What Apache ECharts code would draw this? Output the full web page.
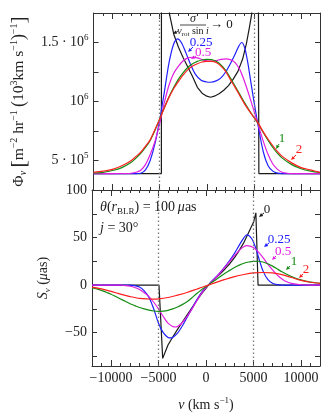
<!DOCTYPE html>
<html>
<head>
<meta charset="utf-8">
<script src="https://cdn.jsdelivr.net/npm/echarts@6/dist/echarts.min.js"></script>
<style>
  html, body { margin: 0; padding: 0; background: #fff; }
  #chart { width: 329px; height: 413px; }
</style>
</head>
<body>
<div id="chart"></div>
<script>
// velocity axis, km/s
const vRange = [-12000, 12000]
const vTicksMajor = [-10000, -5000, 0, 5000, 10000]
const edgeLines = [-5000, 5000]

// top panel: Phi_nu, in units of 10^6
const phiRange = [0.25, 1.75]
const phiBlack = [[-12000,0.389],[-4810,0.389],[-4800,3.0],[-4150,2.3],[-3950,1.74],[-3500,1.57],[-3000,1.46],[-2500,1.37],[-2000,1.29],[-1500,1.21],[-1000,1.12],[-500,1.07],[0,1.045],[400,1.036],[800,1.045],[1300,1.065],[1800,1.095],[2300,1.135],[2800,1.19],[3300,1.255],[3800,1.36],[4200,1.49],[4500,1.62],[4760,1.74],[5000,2.2],[5440,3.0],[5520,0.389],[12000,0.389]]
const phiBlue = [[-12000,0.389],[-7500,0.389],[-7000,0.392],[-6500,0.42],[-6000,0.50],[-5500,0.64],[-5000,0.84],[-4500,1.08],[-4000,1.33],[-3500,1.49],[-3100,1.53],[-2700,1.50],[-2200,1.41],[-1700,1.31],[-1200,1.23],[-600,1.18],[0,1.165],[400,1.163],[1000,1.175],[1500,1.20],[2000,1.25],[2500,1.32],[3000,1.40],[3400,1.47],[3700,1.50],[4000,1.46],[4300,1.35],[4700,1.15],[5000,1.00],[5500,0.77],[6000,0.57],[6500,0.455],[7000,0.41],[7500,0.393],[8000,0.389],[12000,0.389]]
const phiMagenta = [[-12000,0.389],[-8500,0.39],[-8000,0.392],[-7500,0.40],[-7000,0.417],[-6500,0.465],[-6000,0.55],[-5500,0.66],[-5000,0.81],[-4500,0.99],[-4000,1.14],[-3500,1.24],[-3000,1.30],[-2500,1.345],[-2000,1.37],[-1500,1.375],[-1000,1.37],[-500,1.355],[0,1.345],[500,1.342],[1000,1.347],[1500,1.357],[2000,1.362],[2500,1.355],[3000,1.33],[3500,1.27],[4000,1.17],[4500,1.05],[5000,0.92],[5500,0.79],[6000,0.66],[6500,0.55],[7000,0.47],[7500,0.425],[8000,0.40],[8500,0.392],[9000,0.389],[12000,0.389]]
const phiGreen = [[-12000,0.394],[-11000,0.40],[-10000,0.415],[-9000,0.44],[-8000,0.485],[-7500,0.52],[-7000,0.56],[-6500,0.61],[-6000,0.67],[-5500,0.755],[-5000,0.85],[-4500,0.95],[-4000,1.04],[-3500,1.12],[-3000,1.19],[-2500,1.245],[-2000,1.29],[-1500,1.32],[-1000,1.34],[-500,1.352],[0,1.357],[500,1.355],[1000,1.34],[1500,1.31],[2000,1.265],[2500,1.20],[3000,1.13],[3500,1.06],[4000,0.99],[4500,0.925],[5000,0.865],[5500,0.805],[6000,0.735],[6500,0.67],[7000,0.61],[7500,0.56],[8000,0.52],[9000,0.465],[10000,0.43],[11000,0.41],[12000,0.398]]
const phiRed = [[-12000,0.40],[-11000,0.41],[-10000,0.425],[-9000,0.455],[-8000,0.50],[-7500,0.535],[-7000,0.57],[-6500,0.62],[-6000,0.675],[-5500,0.76],[-5000,0.85],[-4500,0.945],[-4000,1.035],[-3500,1.11],[-3000,1.17],[-2500,1.225],[-2000,1.27],[-1500,1.30],[-1000,1.32],[-500,1.335],[0,1.34],[500,1.34],[1000,1.33],[1500,1.30],[2000,1.255],[2500,1.185],[3000,1.12],[3500,1.05],[4000,0.98],[4500,0.92],[5000,0.865],[5500,0.81],[6000,0.74],[6500,0.68],[7000,0.625],[7500,0.575],[8000,0.535],[9000,0.48],[10000,0.44],[11000,0.42],[12000,0.40]]

// bottom panel: S_nu, micro-arcsec
const sRange = [-85, 100]
const sTicks = [-75, -50, -25, 0, 25, 50, 75]
const sLabels = [-50, 0, 50, 100]
const sBlack = [[-12000,0],[-4950,0],[-4560,-77],[-4000,-63],[-3500,-54.5],[-3000,-46.5],[-2500,-39],[-2000,-31.5],[-1500,-24],[-1000,-16.5],[-500,-9.5],[0,-3.5],[250,0],[500,2.5],[1000,7.5],[1500,12],[2000,17],[2500,22.5],[3000,29],[3500,36.5],[4000,45],[4500,55.5],[5000,66],[5250,76],[5480,0],[12000,0]]
const sBlue = [[-12000,0],[-8000,0],[-7500,-0.5],[-7000,-2],[-6500,-6],[-6000,-13],[-5500,-25],[-5000,-40],[-4500,-50],[-4000,-55],[-3700,-55.5],[-3500,-55],[-3000,-50.5],[-2500,-43],[-2000,-34],[-1500,-25],[-1000,-16],[-500,-8],[0,-2],[250,0],[500,3],[1000,8],[1500,13.5],[2000,19.5],[2500,26],[3000,33.5],[3500,42],[4000,50],[4300,52.8],[4800,49],[5200,40],[5600,27],[6000,15],[6500,6],[7000,2],[7500,0.5],[8000,0],[12000,0]]
const sMagenta = [[-12000,0],[-9000,0],[-8500,-0.5],[-8000,-1.2],[-7500,-2.5],[-7000,-4.5],[-6500,-8],[-6000,-12],[-5500,-18],[-5000,-25],[-4500,-33],[-4000,-40],[-3500,-43.5],[-3200,-44],[-3000,-43.5],[-2500,-39.5],[-2000,-33],[-1500,-25.5],[-1000,-17],[-500,-9],[0,-2.5],[250,0],[500,2.5],[1000,7.5],[1500,13],[2000,19],[2500,25],[3000,31],[3500,36.5],[4000,40.5],[4300,41.5],[5000,39.5],[5500,35],[6000,29],[6500,22],[7000,16],[7500,10.5],[8000,6.5],[8500,3.5],[9000,1.8],[10000,0.4],[11000,0],[12000,0]]
const sGreen = [[-12000,-3],[-11500,-4],[-11000,-5.5],[-10500,-7.5],[-10000,-9.5],[-9500,-12],[-9000,-14.5],[-8500,-17],[-8000,-19.5],[-7500,-21.5],[-7000,-23.5],[-6500,-25],[-6000,-26.3],[-5500,-27.2],[-5000,-27.5],[-4500,-27.3],[-4000,-26.5],[-3500,-25],[-3000,-23],[-2500,-20.5],[-2000,-17.5],[-1500,-13.5],[-1000,-9],[-500,-5],[0,-1.8],[250,0],[500,2],[1000,5.5],[1500,9],[2000,12.5],[2500,15.5],[3000,18.5],[3500,21],[4000,23],[4500,24.3],[5000,25],[5500,25.1],[6000,24.3],[6500,22.5],[7000,20],[7500,17],[8000,14],[8500,11.5],[9000,9],[9500,7],[10000,5.5],[10500,4.2],[11000,3.2],[11500,2.5],[12000,2]]
const sRed = [[-12000,-2],[-11000,-4],[-10000,-6.5],[-9000,-9.5],[-8000,-12],[-7000,-14],[-6000,-14.6],[-5500,-14.7],[-5000,-14.5],[-4000,-13],[-3000,-10.5],[-2000,-7.7],[-1000,-4.3],[-500,-2.5],[0,-0.8],[250,0],[1000,2.7],[2000,6],[3000,9],[4000,11.2],[5000,12.8],[6000,13.3],[7000,12.8],[8000,11],[9000,8],[10000,5],[11000,3],[12000,1.8]]

const FONT = '"Liberation Serif", "DejaVu Serif", serif'
const INK = '#222'
const C = { black: '#1a1a1a', blue: '#2020ff', magenta: '#e01ee0', green: '#138c13', red: '#ff1f1f' }

function makeRich (size, color) {
  const s = Math.round(size * 0.66)
  const base = { fontFamily: FONT, color, fill: color }
  return {
    a: Object.assign({}, base, { fontSize: size, lineHeight: size + 4 }),
    i: Object.assign({}, base, { fontSize: size, fontStyle: 'italic', lineHeight: size + 4 }),
    big: Object.assign({}, base, { fontSize: size * 1.4, lineHeight: size + 4 }),
    par: Object.assign({}, base, { fontSize: size * 1.15, lineHeight: size + 4 }),
    sup: Object.assign({}, base, { fontSize: s, verticalAlign: 'top', lineHeight: s + 1 }),
    sub: Object.assign({}, base, { fontSize: s, verticalAlign: 'bottom', lineHeight: s + 1 }),
    isub: Object.assign({}, base, { fontSize: s, fontStyle: 'italic', verticalAlign: 'bottom', lineHeight: s + 1 }),
  }
}
const rich = makeRich(14, INK)
const richTitle = makeRich(15.5, INK)

const minus = v => String(v).replace('-', '\u2212')

// 坐标轴
const frame = { show: true, onZero: false, lineStyle: { color: '#333', width: 1 } }

function xAxisOf (grid, pos, labels) {
  return {
    type: 'value', gridIndex: grid, position: pos, min: vRange[0], max: vRange[1], interval: 1000,
    axisLine: frame,
    axisTick: { show: true, inside: true, length: 3, lineStyle: { color: '#333' } },
    axisLabel: { show: labels, margin: 5, fontFamily: FONT, fontSize: 14, color: INK,
      formatter: v => (v % 5000 === 0 && Math.abs(v) < 12000) ? minus(v) : '' },
    splitLine: { show: false },
    name: labels ? '{i|v} {a|(km s}{sup|\u22121}{a|)}' : '',
    nameLocation: 'middle', nameGap: 30, nameTextStyle: { rich },
  }
}
function xMajorOf (grid, pos) {
  return {
    type: 'value', gridIndex: grid, position: pos, min: vRange[0], max: vRange[1],
    axisLine: { show: false, onZero: false }, axisLabel: { show: false }, splitLine: { show: false },
    axisTick: { show: true, inside: true, length: 6, customValues: vTicksMajor, lineStyle: { color: '#333' } },
  }
}
function phiLabel (v) {
  if (Math.abs(v - 0.5) < 1e-6) return '{a|5 \u00b7 10}{sup|5}'
  if (Math.abs(v - 1) < 1e-6) return '{a|10}{sup|6}'
  if (Math.abs(v - 1.5) < 1e-6) return '{a|1.5 \u00b7 10}{sup|6}'
  return ''
}
function yPhiOf (pos, labels) {
  return {
    type: 'value', gridIndex: 0, position: pos, min: phiRange[0], max: phiRange[1], interval: 0.25,
    axisLine: frame,
    axisTick: { show: true, inside: true, length: 5, lineStyle: { color: '#333' } },
    axisLabel: { show: labels, margin: 5, formatter: phiLabel, rich },
    splitLine: { show: false },
    name: labels ? '{a|\u03a6}{isub|\u03bd} {big|[}{a|m}{sup|\u22122}{a| hr}{sup|\u22121} {par|(}{a|10}{sup|3}{a|km s}{sup|\u22121}{par|)}{sup|\u22121}{big|]}' : '',
    nameLocation: 'middle', nameRotate: 90, nameGap: 58, nameTextStyle: { rich: richTitle },
  }
}
function ySOf (pos, labels) {
  return {
    type: 'value', gridIndex: 1, position: pos, min: sRange[0], max: sRange[1],
    axisLine: frame,
    axisTick: { show: true, inside: true, length: 5, customValues: sTicks, lineStyle: { color: '#333' } },
    axisLabel: { show: labels, margin: 5, customValues: sLabels, fontFamily: FONT, fontSize: 14, color: INK, formatter: minus },
    splitLine: { show: false },
    name: labels ? '{i|S}{isub|\u03bd} {a|(}{i|\u03bc}{a|as)}' : '',
    nameLocation: 'middle', nameRotate: 90, nameGap: 40, nameTextStyle: { rich },
  }
}

const dotted = {
  silent: true, symbol: 'none', label: { show: false },
  lineStyle: { color: '#777', type: [1.5, 2.5], width: 1.3 },
  data: edgeLines.map(v => ({ xAxis: v })),
}

function curve (data, color, panel, extra) {
  return Object.assign({
    type: 'line', data, xAxisIndex: panel * 2, yAxisIndex: panel * 2,
    showSymbol: false, symbol: 'none', smooth: 0.3, clip: true, silent: true,
    lineStyle: { color, width: 1.2 }, itemStyle: { color },
  }, extra || {})
}

// 标注文字与指示箭头
function leader (x1, y1, x2, y2, color) {
  const a = Math.atan2(y2 - y1, x2 - x1)
  const L = 4, W = 1.8
  const bx = x2 - L * Math.cos(a), by = y2 - L * Math.sin(a)
  return [
    { type: 'line', shape: { x1, y1, x2: bx, y2: by }, style: { stroke: color, lineWidth: 1 }, silent: true },
    { type: 'polygon', shape: { points: [[x2, y2], [bx + W * Math.sin(a), by - W * Math.cos(a)], [bx - W * Math.sin(a), by + W * Math.cos(a)]] }, style: { fill: color }, silent: true },
  ]
}
function label (x, y, text, color, size, align) {
  return { type: 'text', x, y, silent: true,
    style: { text, rich: makeRich(size || 14, color), fill: color, fontFamily: FONT, fontSize: size || 14, align: align || 'center', verticalAlign: 'middle' } }
}

const graphics = [
  label(193, 19, '{i|\u03c3}', C.black, 12),
  { type: 'line', shape: { x1: 180, y1: 25, x2: 206, y2: 25 }, style: { stroke: C.black, lineWidth: 0.8 }, silent: true },
  label(193, 31, '{i|v}{sub|rot}{a| sin }{i|i}', C.black, 10),
  label(210, 25, '{a|\u2192 0}', C.black, 13, 'left'),
  ...leader(178, 31, 173, 34, C.black),
  label(201, 43, '{a|0.25}', C.blue, 13),
  ...leader(193, 47, 188, 52, C.blue),
  label(203, 53, '{a|0.5}', C.magenta, 13),
  ...leader(196, 56, 191, 59, C.magenta),
  label(282, 139, '{a|1}', C.green, 13),
  ...leader(279, 144, 276, 149, C.green),
  label(299, 150, '{a|2}', C.red, 13),
  ...leader(296, 155, 291, 160, C.red),

  label(100, 207, '{i|\u03b8}{a|(}{i|r}{sub|BLR}{a|) = 100\u2009}{i|\u03bc}{a|as}', INK, 14, 'left'),
  label(100, 228, '{i|j}{a| = 30\u00b0}', INK, 14, 'left'),
  label(267, 210, '{a|0}', C.black, 13),
  ...leader(264, 213, 259, 217, C.black),
  label(279, 240, '{a|0.25}', C.blue, 13),
  ...leader(269, 243, 264, 247, C.blue),
  label(283, 252, '{a|0.5}', C.magenta, 13),
  ...leader(276, 256, 272, 260, C.magenta),
  label(294, 262, '{a|1}', C.green, 13),
  ...leader(290, 266, 286, 270, C.green),
  label(306, 270, '{a|2}', C.red, 13),
  ...leader(303, 274, 299, 278, C.red),
]

const option = {
  animation: false,
  backgroundColor: '#fff',
  grid: [
    { left: 92, top: 13, width: 228, height: 177 },
    { left: 92, top: 190, width: 228, height: 177 },
  ],
  xAxis: [
    xAxisOf(0, 'bottom', false), xAxisOf(0, 'top', false),
    xAxisOf(1, 'bottom', true), xAxisOf(1, 'top', false),
    xMajorOf(0, 'bottom'), xMajorOf(0, 'top'), xMajorOf(1, 'bottom'), xMajorOf(1, 'top'),
  ],
  yAxis: [
    yPhiOf('left', true), yPhiOf('right', false),
    ySOf('left', true), ySOf('right', false),
  ],
  series: [
    curve(phiBlack, C.black, 0, { smooth: false, markLine: dotted }),
    curve(phiBlue, C.blue, 0),
    curve(phiMagenta, C.magenta, 0),
    curve(phiGreen, C.green, 0),
    curve(phiRed, C.red, 0),
    curve(sBlack, C.black, 1, { smooth: false, markLine: dotted }),
    curve(sBlue, C.blue, 1),
    curve(sMagenta, C.magenta, 1),
    curve(sGreen, C.green, 1),
    curve(sRed, C.red, 1),
  ],
  graphic: graphics,
}

const chart = echarts.init(document.getElementById('chart'), null, { renderer: 'canvas' })
chart.setOption(option)
</script>
</body>
</html>
